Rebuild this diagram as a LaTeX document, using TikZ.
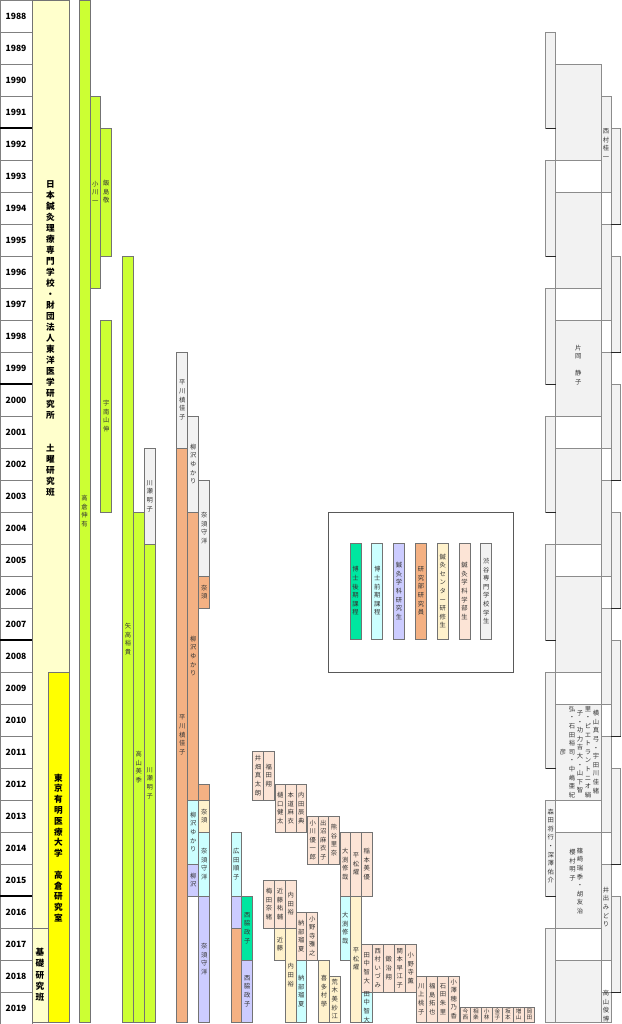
\documentclass[tikz,border=0pt]{standalone}
\usepackage{fontspec}
\setmainfont{Noto Sans CJK JP}

\definecolor{kouki}{HTML}{00E6A0}
\definecolor{zenki}{HTML}{CCFFFF}
\definecolor{kenkyusei}{HTML}{CCCCFF}
\definecolor{kenkyuin}{HTML}{F4B183}
\definecolor{kenshu}{HTML}{FFF2CC}
\definecolor{gakubu}{HTML}{FCE4D6}
\definecolor{senmon}{HTML}{F2F2F2}
\definecolor{wakakusa}{HTML}{CCFF33}
\definecolor{doyou}{HTML}{FFFFCC}
\definecolor{ariake}{HTML}{FFFF00}

% vertical (tategaki) text, one character per line
\ExplSyntaxOn
\tl_new:N \l_tate_tl
\NewDocumentCommand\tate{O{8.6pt}m}
  {
    \tl_set:Nx \l_tate_tl {#2}
    \vbox:n
      {
        \skip_set:Nn \baselineskip {#1}
        \dim_set:Nn \lineskiplimit {-100pt}
        \tl_map_inline:Nn \l_tate_tl { \hbox_to_wd:nn {1em} { \hss ##1 \hss } }
      }
  }
\ExplSyntaxOff

\tikzset{
  segbox/.style={draw=black!55, line width=0.7pt},
  greybox/.style={draw=black!45, line width=0.7pt, fill=senmon},
  namelabel/.style={inner sep=0pt, text=black!80, font=\fontsize{6.3}{8}\selectfont},
  biglabel/.style={inner sep=0pt, font=\bfseries\fontsize{8.6}{10}\selectfont},
  yearbox/.style={draw=black!50, line width=0.7pt, fill=white},
  yearlabel/.style={inner sep=0pt, font=\bfseries\fontsize{8.6}{9}\selectfont}
}

\newcounter{segno}
\newcommand{\seg}[6]{%
  \stepcounter{segno}%
  \draw[segbox, fill=#5] (#1,#2) rectangle (#3,#4);
  \node[namelabel] (seg\arabic{segno}) at ({(#1+#3)/2},{(#2+#4)/2}) {\tate{#6}};}

\begin{document}
\begin{tikzpicture}[x=1pt, y=-1pt]
\useasboundingbox (0,0) rectangle (621,1024);
\fill[white] (0,0) rectangle (621,1024);

% years
\foreach \yr [count=\i from 0] in {1988,...,2019}{
  \draw[yearbox] (0,{32*\i}) rectangle (32,{32*\i+32});
  \node[yearlabel] (y\yr) at (16,{32*\i+16}) {\yr};
}
\foreach \k in {4,12,20,28}
  \draw[line width=1.1pt] (0,{32*\k}) -- (32,{32*\k});

% laboratories
\draw[segbox, fill=doyou] (32,0) -- (69,0) -- (69,672) -- (48,672) -- (48,928) -- (32,928) -- cycle;
\draw[segbox, fill=doyou] (32,928) rectangle (48,1022);
\draw[segbox, fill=ariake] (48,672) rectangle (69,1022);
\node[biglabel] (doyoulab) at (50.5,338) {\tate[11pt]{日本鍼灸理療専門学校・財団法人東洋医学研究所　　土曜研究班}};
\node[biglabel] (ariakelab) at (58.5,848) {\tate[10.8pt]{東京有明医療大学　高倉研究室}};
\node[biglabel] (kisolab) at (40,975) {\tate[11.3pt]{基礎研究班}};

% shibuya / staff
\seg{79}{0}{90}{1022}{wakakusa}{高倉伸有}
\seg{90}{96}{100.7}{288}{wakakusa}{小川一}
\seg{100.7}{128}{111.7}{256}{wakakusa}{飯島敬}
\seg{100.7}{320}{111.7}{512}{wakakusa}{宇南山伸}
\seg{122.7}{256}{133.3}{1022}{wakakusa}{矢高裕貴}
\seg{133.3}{512}{144.3}{1022}{wakakusa}{高山美季}
\seg{144.3}{448}{155.3}{544}{senmon}{川瀬明子}
\seg{144.3}{544}{155.3}{1022}{wakakusa}{川瀬明子}

\seg{176.7}{352}{187.7}{448}{senmon}{平川槙佳子}
\seg{176.7}{448}{187.7}{1022}{kenkyuin}{平川槙佳子}
\seg{187.7}{416}{198.7}{512}{senmon}{柳沢ゆかり}
\seg{187.7}{512}{198.7}{800}{kenkyuin}{柳沢ゆかり}
\seg{187.7}{800}{198.7}{864}{zenki}{柳沢ゆかり}
\seg{187.7}{864}{198.7}{896}{kenkyusei}{柳沢}
\seg{198.7}{480}{209.7}{576}{senmon}{奈須守洋}
\seg{198.7}{576}{209.7}{608}{kenkyuin}{奈須}
\seg{198.7}{784}{209.7}{800}{kenkyuin}{}
\seg{198.7}{800}{209.7}{832}{kenshu}{奈須}
\seg{198.7}{832}{209.7}{896}{zenki}{奈須守洋}
\seg{198.7}{896}{209.7}{1022}{kenkyusei}{奈須守洋}

\seg{231}{832}{241.7}{896}{zenki}{広田順子}
\seg{231}{896}{241.7}{928}{kenkyusei}{}
\seg{231}{928}{241.7}{1022}{kenkyuin}{}
\seg{241.7}{896}{252.7}{960}{kouki}{西脇政子}
\seg{241.7}{960}{252.7}{1022}{kenkyusei}{西脇政子}

% students
\seg{252.7}{751}{263.3}{800}{gakubu}{井畑真太朗}
\seg{263.3}{751}{274}{800}{gakubu}{福田翔}
\seg{275}{784}{285.7}{832}{gakubu}{樋口健太}
\seg{285.7}{784}{296}{832}{gakubu}{本道麻衣}
\seg{296}{784}{306.7}{832}{gakubu}{内田辰典}
\seg{307.3}{816}{318}{864}{gakubu}{小川優一郎}
\seg{318}{816}{328.7}{864}{gakubu}{出沼麻衣子}
\seg{328.7}{816}{339.3}{864}{gakubu}{熊谷里奈}
\seg{340}{832}{350.7}{896}{gakubu}{大渕修哉}
\seg{350.7}{832}{361.3}{896}{gakubu}{平松燿}
\seg{361.3}{832}{372}{896}{gakubu}{稲本美優}
\seg{340}{896}{350.7}{960}{zenki}{大渕修哉}
\seg{350.7}{896}{361.3}{1022}{kenshu}{平松燿}

\seg{263.3}{880}{274.7}{928}{gakubu}{梅田奈緒}
\seg{274.7}{880}{285.3}{928}{gakubu}{近藤祐輔}
\seg{285.3}{880}{296}{928}{gakubu}{内田裕}
\seg{274.7}{928}{285.3}{960}{kenshu}{近藤}
\seg{285.3}{928}{296}{1022}{kenshu}{内田裕}
\seg{296}{912}{306.7}{960}{gakubu}{納部瑠夏}
\seg{306.7}{912}{317.7}{960}{gakubu}{小野寺雅之}
\seg{296}{960}{306.7}{1022}{zenki}{納部瑠夏}
\seg{318.7}{960}{329.3}{1022}{kenshu}{喜多村學}
\seg{329.3}{976}{340}{1022}{kenshu}{荒木美紗江}

\seg{361.7}{944}{372}{992}{gakubu}{田中智大}
\seg{372}{944}{383.3}{992}{gakubu}{西村いづみ}
\seg{383.3}{944}{394.3}{992}{gakubu}{鍛治翔}
\seg{394.3}{944}{405.3}{992}{gakubu}{関本早江子}
\seg{405.3}{944}{416}{992}{gakubu}{小野寺薫}
\seg{361.7}{992}{372}{1022}{zenki}{田中智大}
\seg{416}{976}{426.7}{1022}{gakubu}{川上桃子}
\seg{426.7}{976}{437.7}{1022}{gakubu}{福島拓也}
\seg{437.7}{976}{448.3}{1022}{gakubu}{石田朱里}
\seg{448.3}{976}{459.3}{1022}{gakubu}{小澤穂乃香}
\foreach \nm [count=\i from 0] in {今西,相楽,小林,金子,坂本,増山,岡田}{
  \draw[segbox, fill=gakubu] ({460+10.67*\i},1007) rectangle ({470.67+10.67*\i},1022);
  \node[namelabel, font=\fontsize{5.6}{6}\selectfont] (last\i) at ({465.3+10.67*\i},1014.5) {\tate[6.4pt]{\nm}};
}

% legend
\draw[draw=black!65, line width=0.8pt] (328,512) rectangle (513,672);
\foreach \col/\lab [count=\i from 0] in {kouki/博士後期課程, zenki/博士前期課程, kenkyusei/鍼灸学科研究生,
    kenkyuin/研究部研究員, kenshu/鍼灸センター研修生, gakubu/鍼灸学科学部生, senmon/渋谷専門学校学生}{
  \draw[segbox, fill=\col] ({350+21.8*\i},543) rectangle ({361+21.8*\i},639);
  \node[namelabel] (leg\i) at ({355.5+21.8*\i},591) {\tate{\lab}};
}

% right column
\foreach \k in {0,...,7}{
  \draw[greybox] (545.7,{32+128*\k}) rectangle (555.7,{min(128+128*\k,1022)});
  \draw[greybox] (555.7,{64+128*\k}) rectangle (601,{min(160+128*\k,1022)});
  \draw[greybox] (601,{96+128*\k}) rectangle (611,{min(192+128*\k,1022)});
}
\foreach \k in {0,...,6}
  \draw[greybox] (611,{128+128*\k}) rectangle (620.7,{224+128*\k});
\foreach \k in {0,...,6}{
  \draw[black!85, line width=0.8pt] (545.7,{128+128*\k}) -- (555.7,{128+128*\k});
  \draw[black!85, line width=0.8pt] (611,{224+128*\k}) -- (620.7,{224+128*\k});
}
\node[namelabel] (nishimura) at (606,144) {\tate{西村桂一}};
\node[namelabel] (kataoka) at (578.3,365) {\tate{片岡　静子}};
\node[namelabel] (yoko1) at (596,752) {\tate{横山真弓・宇田川佳緒}};
\node[namelabel] (yoko2) at (588,752) {\tate{里・ピエトラントニオ絹}};
\node[namelabel] (yoko3) at (580,752) {\tate{子・功力吉大・山下智}};
\node[namelabel] (yoko4) at (572,752) {\tate{弘・石田裕司・中嶋亜紀}};
\node[namelabel] (yoko5) at (563,752) {\tate{彦}};
\node[namelabel] (morita) at (550.7,846) {\tate{森田将行・深澤佑介}};
\node[namelabel] (shinozaki) at (580,881) {\tate{篠崎瑞季・胡友治}};
\node[namelabel] (sakuramura) at (572.5,865) {\tate{櫻村明子}};
\node[namelabel] (ide) at (606,907) {\tate{井出みどり}};
\node[namelabel] (takayama) at (606,1006) {\tate{高山俊博}};
\end{tikzpicture}
\end{document}
